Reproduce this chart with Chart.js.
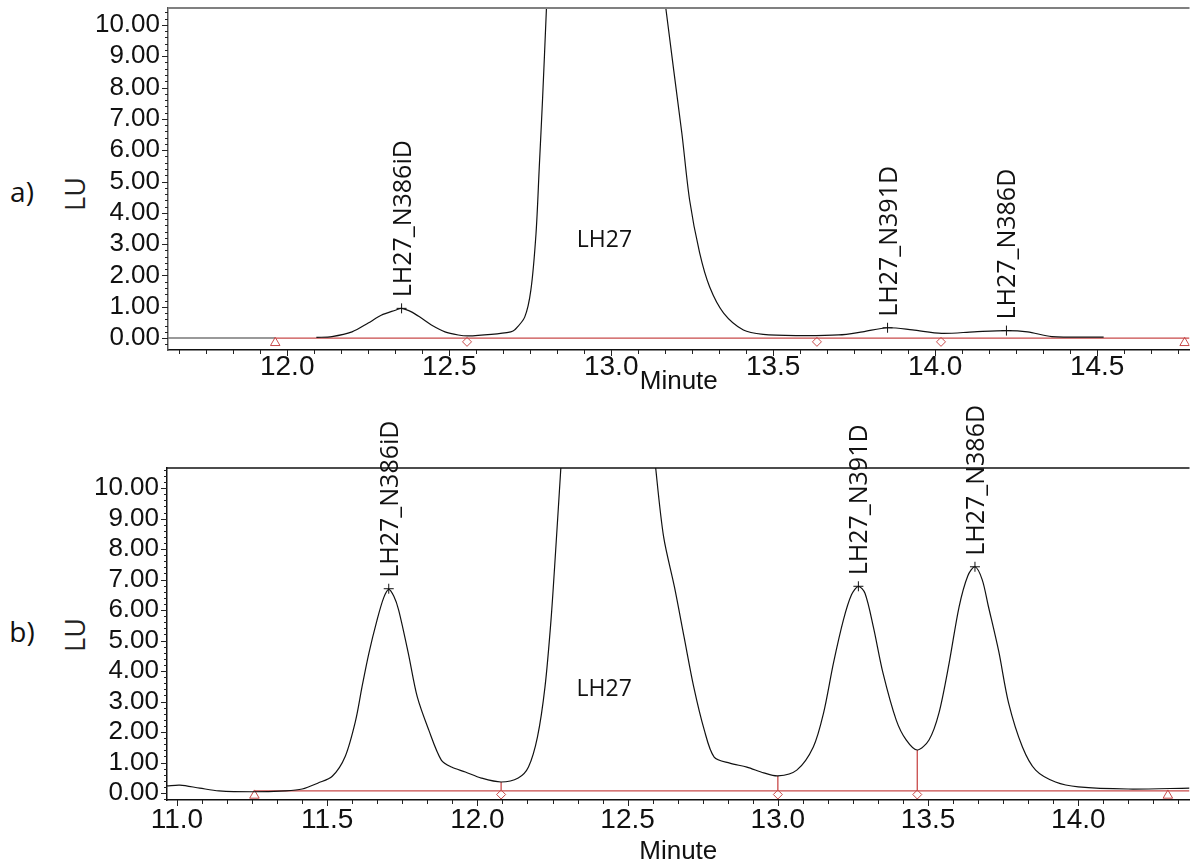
<!DOCTYPE html>
<html>
<head>
<meta charset="utf-8">
<script src="https://cdn.jsdelivr.net/npm/chart.js@4.4.1/dist/chart.umd.min.js"></script>
<style>
  html, body { margin: 0; padding: 0; background: #fff; }
  body { width: 1196px; height: 867px; position: relative; overflow: hidden; font-family: "Open Sans", sans-serif; color: #111; }
  canvas { position: absolute; left: 0; }
  #runA { top: 0; }
  #runB { top: 400px; }
  .tag, .unit { position: absolute; line-height: 1; white-space: nowrap; }
  .tag { font-size: 28px; transform: translate(-50%, -50%); }
  .unit { font-size: 27px; transform: translate(-50%, -50%) rotate(-90deg); color: #222; }
</style>
</head>
<body>
<div class="tag" style="left:22px; top:191px;">a)</div>
<div class="unit" style="left:74px; top:194px;">LU</div>
<div class="tag" style="left:22px; top:631px;">b)</div>
<div class="unit" style="left:74px; top:635px;">LU</div>
<canvas id="runA" width="1196" height="400"></canvas>
<canvas id="runB" width="1196" height="467"></canvas>
<script>
// ---- run a) ----
const timeA = [12.09, 12.138, 12.2, 12.25, 12.29, 12.334, 12.353, 12.385, 12.415, 12.445,
  12.487, 12.528, 12.558, 12.63, 12.69, 12.702, 12.733, 12.752, 12.768, 12.778,
  12.788, 12.80, 12.82, 12.86, 12.93, 13.0, 13.06, 13.12, 13.169, 13.218,
  13.242, 13.273, 13.304, 13.347, 13.408, 13.469, 13.57, 13.702, 13.776, 13.853,
  13.93, 14.02, 14.12, 14.22, 14.285, 14.36, 14.52];
const signalA = [0.02, 0.05, 0.2, 0.48, 0.73, 0.89, 0.95, 0.83, 0.63, 0.42,
  0.2, 0.1, 0.07, 0.12, 0.2, 0.26, 0.67, 1.53, 3.35, 5.46,
  7.6, 10.5, 15.5, 24, 29, 28, 22, 15, 10.5, 6.55,
  4.41, 2.72, 1.63, 0.8, 0.26, 0.12, 0.08, 0.1, 0.2, 0.33,
  0.26, 0.15, 0.2, 0.24, 0.2, 0.05, 0.03];
const leadA = [11.632, 11.963];           // untreated stretch before integration
const baseA = [11.963, 14.785];           // integration baseline
const baseLevelA = 0;
const endsA = [11.963, 14.77];            // baseline start/stop
const valleysA = [12.555, 13.635, 14.018];
const peakNamesA = ['LH27_N386iD', 'LH27_N391D', 'LH27_N386D'];
const peakTimesA = [12.353, 13.853, 14.22];
const peakHeightsA = [0.95, 0.33, 0.24];
const mainAtA = [12.979, 3.13];
const xTicksA = [12.0, 12.5, 13.0, 13.5, 14.0, 14.5];

// ---- run b) ----
const timeB = [10.967, 11.01, 11.076, 11.14, 11.25, 11.36, 11.417, 11.47, 11.517, 11.56,
  11.595, 11.616, 11.639, 11.666, 11.688, 11.705, 11.722, 11.738, 11.77, 11.80,
  11.838, 11.88, 11.914, 11.96, 12.013, 12.079, 12.136, 12.17, 12.20, 12.225,
  12.245, 12.26, 12.278, 12.30, 12.36, 12.45, 12.52, 12.56, 12.593, 12.62,
  12.656, 12.688, 12.72, 12.755, 12.788, 12.84, 12.897, 12.953, 13.0, 13.063,
  13.118, 13.152, 13.185, 13.218, 13.245, 13.268, 13.29, 13.318, 13.35, 13.394,
  13.427, 13.464, 13.503, 13.536, 13.57, 13.603, 13.632, 13.656, 13.68, 13.70,
  13.735, 13.768, 13.814, 13.858, 13.924, 14.0, 14.166, 14.37];
const signalB = [0.23, 0.26, 0.16, 0.07, 0.04, 0.07, 0.13, 0.33, 0.55, 1.2,
  2.39, 3.48, 4.59, 5.67, 6.4, 6.68, 6.45, 6.0, 4.59, 3.15,
  2.07, 1.08, 0.85, 0.69, 0.49, 0.36, 0.49, 0.85, 1.84, 3.48,
  5.67, 7.87, 10.7, 14, 22, 28, 20, 14, 10.7, 8.39,
  6.75, 5.11, 3.48, 2.07, 1.18, 0.98, 0.85, 0.66, 0.56, 0.75,
  1.51, 2.62, 4.26, 5.67, 6.5, 6.78, 6.55, 5.44, 3.93, 2.39,
  1.74, 1.41, 1.74, 2.62, 4.26, 6.1, 7.12, 7.42, 7.0, 6.15,
  4.65, 2.95, 1.51, 0.75, 0.36, 0.2, 0.13, 0.16];
const baseB = [11.258, 14.37];
const baseLevelB = 0.07;
const endsB = [11.258, 14.298];
const valleysB = [12.079, 13.0, 13.464];
const dropTopsB = [0.36, 0.56, 1.41];     // signal where the peaks are split
const peakNamesB = ['LH27_N386iD', 'LH27_N391D', 'LH27_N386D'];
const peakTimesB = [11.705, 13.268, 13.656];
const peakHeightsB = [6.7, 6.78, 7.42];
const mainAtB = [12.422, 3.38];
const xTicksB = [11.0, 11.5, 12.0, 12.5, 13.0, 13.5, 14.0];

const yTicks = [0, 1, 2, 3, 4, 5, 6, 7, 8, 9, 10];

const RED = '#c84a4a';
const SANS = '"Liberation Sans", Arial, sans-serif';

// minor ticks on both axes + top frame line
const axisTicks = {
  id: 'axisTicks',
  afterDraw(chart, args, o) {
    const { ctx, chartArea: a, scales: { x, y } } = chart;
    ctx.save();
    ctx.strokeStyle = '#222';
    ctx.lineWidth = 1;
    ctx.beginPath();
    for (let k = Math.ceil(x.min * 12); k <= Math.floor(x.max * 12); k++) {
      const px = Math.round(x.getPixelForValue(k / 12)) + 0.5;
      const len = k % 6 === 0 ? 6 : 4;
      ctx.moveTo(px, a.bottom);
      ctx.lineTo(px, a.bottom + len);
    }
    for (let k = Math.ceil(y.min * 5); k <= Math.floor(y.max * 5); k++) {
      const py = Math.round(y.getPixelForValue(k / 5)) + 0.5;
      const len = k % 5 === 0 ? 6 : 3;
      ctx.moveTo(a.left - len, py);
      ctx.lineTo(a.left, py);
    }
    ctx.stroke();
    ctx.strokeStyle = o.frameColor;
    ctx.lineWidth = o.frameWidth;
    ctx.beginPath();
    ctx.moveTo(a.left, a.top);
    ctx.lineTo(a.right, a.top);
    ctx.stroke();
    ctx.restore();
  }
};

// peak names written upward above each apex
const peakNotes = {
  id: 'peakNotes',
  afterDatasetsDraw(chart, args, o) {
    const { ctx, scales: { x, y } } = chart;
    ctx.save();
    ctx.fillStyle = '#111';
    ctx.font = '25px "Open Sans"';
    o.names.forEach((name, i) => {
      ctx.save();
      ctx.translate(x.getPixelForValue(o.times[i]), y.getPixelForValue(o.heights[i]) - 11);
      ctx.rotate(-Math.PI / 2);
      ctx.textAlign = 'left';
      ctx.textBaseline = 'alphabetic';
      ctx.fillText(name, 0, 9);
      ctx.restore();
    });
    ctx.font = '23px "Open Sans"';
    ctx.textAlign = 'center';
    ctx.textBaseline = 'middle';
    ctx.fillText(o.main, x.getPixelForValue(o.mainAt[0]), y.getPixelForValue(o.mainAt[1]));
    ctx.restore();
  }
};

const pts = (xs, ys) => xs.map((v, i) => ({ x: v, y: Array.isArray(ys) ? ys[i] : ys }));

function buildRun(id, r) {
  const sets = [
    { data: pts(r.time, r.signal), borderColor: '#111', borderWidth: 1.2, tension: 0.3 },
    { data: pts(r.base, r.baseLevel), borderColor: RED, borderWidth: 1.3 },
    { data: pts(r.ends, r.baseLevel - 0.15), showLine: false, pointStyle: 'triangle', pointRadius: 5.5,
      pointBorderColor: RED, pointBackgroundColor: '#fff', pointBorderWidth: 1 },
    { data: pts(r.valleys, r.baseLevel - 0.12), showLine: false, pointStyle: 'rectRot', pointRadius: 4.5,
      pointBorderColor: RED, pointBackgroundColor: '#fff', pointBorderWidth: 1 },
    { data: pts(r.peakTimes, r.peakHeights), showLine: false, pointStyle: 'cross', pointRadius: 5,
      pointBorderColor: '#111', pointBorderWidth: 1 }
  ];
  if (r.lead) sets.push({ data: pts(r.lead, r.baseLevel), borderColor: '#777', borderWidth: 1.5 });
  (r.dropTops || []).forEach((top, i) => {
    sets.push({ data: pts([r.valleys[i], r.valleys[i]], [r.baseLevel, top]), borderColor: RED, borderWidth: 1.3 });
  });
  sets.forEach(s => {
    s.showLine = s.showLine !== false;
    if (s.pointRadius === undefined) s.pointRadius = 0;
  });

  return new Chart(document.getElementById(id), {
    type: 'scatter',
    data: { datasets: sets },
    options: {
      responsive: false,
      animation: false,
      layout: { padding: { top: r.padTop, right: 0, bottom: 0, left: 0 } },
      plugins: {
        legend: { display: false },
        tooltip: { enabled: false },
        axisTicks: { frameColor: r.frameColor, frameWidth: r.frameWidth },
        peakNotes: { names: r.peakNames, times: r.peakTimes, heights: r.peakHeights, main: 'LH27', mainAt: r.mainAt }
      },
      scales: {
        x: {
          type: 'linear', min: r.xMin, max: r.xMax,
          grid: { display: false, drawTicks: false },
          border: { display: true, color: '#111', width: 1.5 },
          ticks: { autoSkip: false, maxRotation: 0, padding: r.xPad, color: '#111',
                   font: { family: SANS, size: 28, lineHeight: 1 },
                   callback: v => Number(v).toFixed(1) },
          title: { display: true, text: 'Minute', color: '#111',
                   font: { family: SANS, size: 26, lineHeight: 1 },
                   padding: { top: 0, bottom: r.titlePad } },
          afterBuildTicks: s => { s.ticks = r.xTicks.map(v => ({ value: v })); },
          afterFit: s => { s.height = r.xHeight; s.paddingLeft = 0; s.paddingRight = 0; }
        },
        y: {
          min: r.yMin, max: r.yMax,
          grid: { display: false, drawTicks: false },
          border: { display: true, color: r.yAxisColor, width: 1.5 },
          ticks: { autoSkip: false, padding: 8, color: '#111',
                   font: { family: SANS, size: 26, lineHeight: 1 },
                   callback: v => Number(v).toFixed(2) },
          afterBuildTicks: s => { s.ticks = yTicks.map(v => ({ value: v })); },
          afterFit: s => { s.width = r.yWidth; s.paddingTop = 0; s.paddingBottom = 0; }
        }
      }
    },
    plugins: [axisTicks, peakNotes]
  });
}

function drawAll() {
  buildRun('runA', {
    time: timeA, signal: signalA, lead: leadA, base: baseA, baseLevel: baseLevelA,
    ends: endsA, valleys: valleysA,
    peakNames: peakNamesA, peakTimes: peakTimesA, peakHeights: peakHeightsA, mainAt: mainAtA,
    xTicks: xTicksA, xMin: 11.632, xMax: 14.785, yMin: -0.38, yMax: 10.54,
    padTop: 8, yWidth: 168, xHeight: 50, xPad: 3, titlePad: 5,
    frameColor: '#808080', frameWidth: 2, yAxisColor: '#555'
  });
  buildRun('runB', {
    time: timeB, signal: signalB, base: baseB, baseLevel: baseLevelB,
    ends: endsB, valleys: valleysB, dropTops: dropTopsB,
    peakNames: peakNamesB, peakTimes: peakTimesB, peakHeights: peakHeightsB, mainAt: mainAtB,
    xTicks: xTicksB, xMin: 10.967, xMax: 14.37, yMin: -0.23, yMax: 10.66,
    padTop: 68, yWidth: 167, xHeight: 67, xPad: 6, titlePad: 2,
    frameColor: '#111', frameWidth: 1.5, yAxisColor: '#111'
  });
}

Promise.all([
  document.fonts.load('25px "Open Sans"'),
  document.fonts.load('26px "Liberation Sans"')
]).catch(() => {}).then(drawAll);
</script>
</body>
</html>
